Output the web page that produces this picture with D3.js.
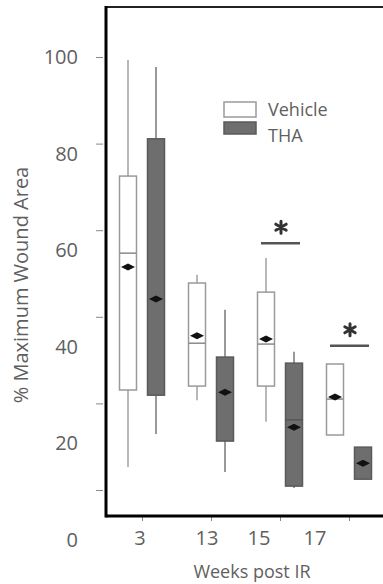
<!DOCTYPE html>
<html lang="en">
<head>
  <meta charset="UTF-8">
  <title>Wound area box plot</title>
  <script src="https://d3js.org/d3.v7.min.js"></script>
  <style>
    body { margin: 0; background: #fff; }
    text { font-family: 'Open Sans', sans-serif; fill: #5f5f5f; }
  </style>
</head>
<body>
  <svg id='chart' width=383 height=584></svg>
  <script>
    // categories
    const weeks = ['3', '13', '15', '17'];
    const groups = ['Vehicle', 'THA'];
    const yTicks = [0, 20, 40, 60, 80, 100];

    // Vehicle values (% max wound area), null = not drawn
    const vehMin = [5.8, 21.2, 16.2, null];
    const vehQ1 = [23.1, 24.0, 24.0, 12.7];
    const vehMed = [54.7, 33.9, 33.7, 21.0];
    const vehQ3 = [72.5, 47.8, 45.7, 29.1];
    const vehMax = [99.3, 49.7, 53.6, null];
    const vehMean = [51.5, 35.6, 34.9, 21.5];

    // THA values
    const thaMin = [13.4, 4.6, 0.9, null];
    const thaQ1 = [21.9, 11.3, 0.9, 2.5];
    const thaMed = [null, null, 16.2, null];
    const thaQ3 = [81.1, 30.7, 29.3, 9.9];
    const thaMax = [97.7, 41.6, 31.9, null];
    const thaMean = [44.1, 22.6, 14.5, 6.2];

    // significance markers
    const sigWeeks = ['15', '17'];
    const sigLevel = [57.0, 33.3];

    const svg = d3.select('svg#chart');
    const plotLeft = 106, plotTop = 7, plotBottom = 516;

    // scales
    const y = d3.scaleLinear().domain([0, 100]).range([490, 57]);
    const yLabel = d3.scaleLinear().domain([0, 100]).range([540, 57]);
    const x = d3.scalePoint().domain(weeks).range([142, 349]);
    const xLabel = d3.scaleOrdinal().domain(weeks).range([140, 207, 259, 315]);
    const sub = d3.scalePoint().domain(groups).range([-14, 14]);
    const boxW = 17;

    // frame
    svg.append('line')
      .attr('x1', plotLeft).attr('x2', 383)
      .attr('y1', plotTop).attr('y2', plotTop)
      .attr('stroke', '#222').attr('stroke-width', 2);

    // y ticks + labels
    let leftAxis = d3.axisLeft(y).tickValues(yTicks).tickSize(7).tickFormat('');
    let yAx = svg.append('g')
      .attr('transform', 'translate(103,0)')
      .call(leftAxis);
    yAx.select('.domain').remove();
    yAx.selectAll('line').attr('stroke', '#888');

    svg.append('g').selectAll('text')
      .data(yTicks)
      .join('text')
      .attr('x', 78)
      .attr('y', d => yLabel(d))
      .attr('dy', '0.35em')
      .attr('text-anchor', 'end')
      .style('font-size', '20px')
      .text(d => d);

    // x ticks + labels
    let bottomAxis = d3.axisBottom(x).tickSize(4).tickFormat('');
    let xAx = svg.append('g')
      .attr('transform', 'translate(0,' + (plotBottom + 1) + ')')
      .call(bottomAxis);
    xAx.select('.domain').remove();
    xAx.selectAll('line').attr('stroke', '#888');

    svg.append('g').selectAll('text')
      .data(weeks)
      .join('text')
      .attr('x', d => xLabel(d))
      .attr('y', 538)
      .attr('dy', '0.35em')
      .attr('text-anchor', 'middle')
      .style('font-size', '20px')
      .text(d => d);

    // axis titles
    svg.append('text')
      .attr('x', 252)
      .attr('y', 572)
      .attr('dy', '0.35em')
      .attr('text-anchor', 'middle')
      .style('font-size', '18px')
      .text('Weeks post IR');

    svg.append('text')
      .attr('transform', 'translate(21,285) rotate(-90)')
      .attr('dy', '0.35em')
      .attr('text-anchor', 'middle')
      .style('font-size', '20px')
      .text('% Maximum Wound Area');

    // boxes
    const series = [
      { name: 'Vehicle', min: vehMin, q1: vehQ1, med: vehMed, q3: vehQ3, max: vehMax, mean: vehMean,
        fill: '#fff', stroke: '#9a9a9a', whisker: '#b8b8b8', medColor: '#8a8a8a' },
      { name: 'THA', min: thaMin, q1: thaQ1, med: thaMed, q3: thaQ3, max: thaMax, mean: thaMean,
        fill: '#6e6e6e', stroke: '#5a5a5a', whisker: '#999', medColor: '#555' }
    ];

    let chartArea = svg.append('g').attr('id', 'boxes');

    series.forEach(s => {
      weeks.forEach((w, i) => {
        const cx = x(w) + sub(s.name);
        const g = chartArea.append('g');
        // whiskers
        if (s.max[i] != null) {
          g.append('line').attr('x1', cx).attr('x2', cx)
            .attr('y1', y(s.q3[i])).attr('y2', y(s.max[i]))
            .attr('stroke', s.whisker).attr('stroke-width', 2);
        }
        if (s.min[i] != null) {
          g.append('line').attr('x1', cx).attr('x2', cx)
            .attr('y1', y(s.q1[i])).attr('y2', y(s.min[i]) + 2)
            .attr('stroke', s.whisker).attr('stroke-width', 2);
        }
        // box
        g.append('rect')
          .attr('x', cx - boxW / 2)
          .attr('y', y(s.q3[i]))
          .attr('width', boxW)
          .attr('height', y(s.q1[i]) - y(s.q3[i]))
          .attr('fill', s.fill)
          .attr('stroke', s.stroke)
          .attr('stroke-width', 1.5);
        // median
        if (s.med[i] != null) {
          g.append('line')
            .attr('x1', cx - boxW / 2).attr('x2', cx + boxW / 2)
            .attr('y1', y(s.med[i])).attr('y2', y(s.med[i]))
            .attr('stroke', s.medColor).attr('stroke-width', 1.5);
        }
        // mean diamond
        const my = y(s.mean[i]);
        g.append('path')
          .attr('d', 'M' + (cx - 7) + ',' + my + 'L' + cx + ',' + (my - 3.5) +
            'L' + (cx + 7) + ',' + my + 'L' + cx + ',' + (my + 3.5) + 'Z')
          .attr('fill', '#111');
      });
    });

    // significance bars with a six-arm asterisk above
    sigWeeks.forEach((w, i) => {
      const by = y(sigLevel[i]);
      svg.append('line')
        .attr('x1', x(w) - 19).attr('x2', x(w) + 20)
        .attr('y1', by).attr('y2', by)
        .attr('stroke', '#555').attr('stroke-width', 2.5);
      const sx = x(w) + 1, sy = by - 16, r = 6;
      let star = '';
      [90, 30, -30].forEach(a => {
        const dx = r * Math.cos(a * Math.PI / 180), dy = r * Math.sin(a * Math.PI / 180);
        star += 'M' + (sx - dx) + ',' + (sy - dy) + 'L' + (sx + dx) + ',' + (sy + dy);
      });
      svg.append('path')
        .attr('d', star)
        .attr('stroke', '#333')
        .attr('stroke-width', 3)
        .attr('stroke-linecap', 'round');
    });

    // legend
    let legend = svg.append('g').attr('transform', 'translate(224,102)');
    groups.forEach((gname, i) => {
      legend.append('rect')
        .attr('x', 0).attr('y', i * 20)
        .attr('width', 32).attr('height', i == 0 ? 15 : 12)
        .attr('fill', series[i].fill)
        .attr('stroke', series[i].stroke)
        .attr('stroke-width', 1.5);
      legend.append('text')
        .attr('x', 44).attr('y', i * 26 + 8)
        .attr('dy', '0.35em')
        .style('font-size', '18px')
        .text(gname);
    });

    // left + bottom axis lines on top
    svg.append('line')
      .attr('x1', plotLeft).attr('x2', plotLeft)
      .attr('y1', plotTop - 1).attr('y2', plotBottom + 1.5)
      .attr('stroke', '#000').attr('stroke-width', 3);
    svg.append('line')
      .attr('x1', plotLeft).attr('x2', 383)
      .attr('y1', plotBottom).attr('y2', plotBottom)
      .attr('stroke', '#000').attr('stroke-width', 3);
  </script>
</body>
</html>
